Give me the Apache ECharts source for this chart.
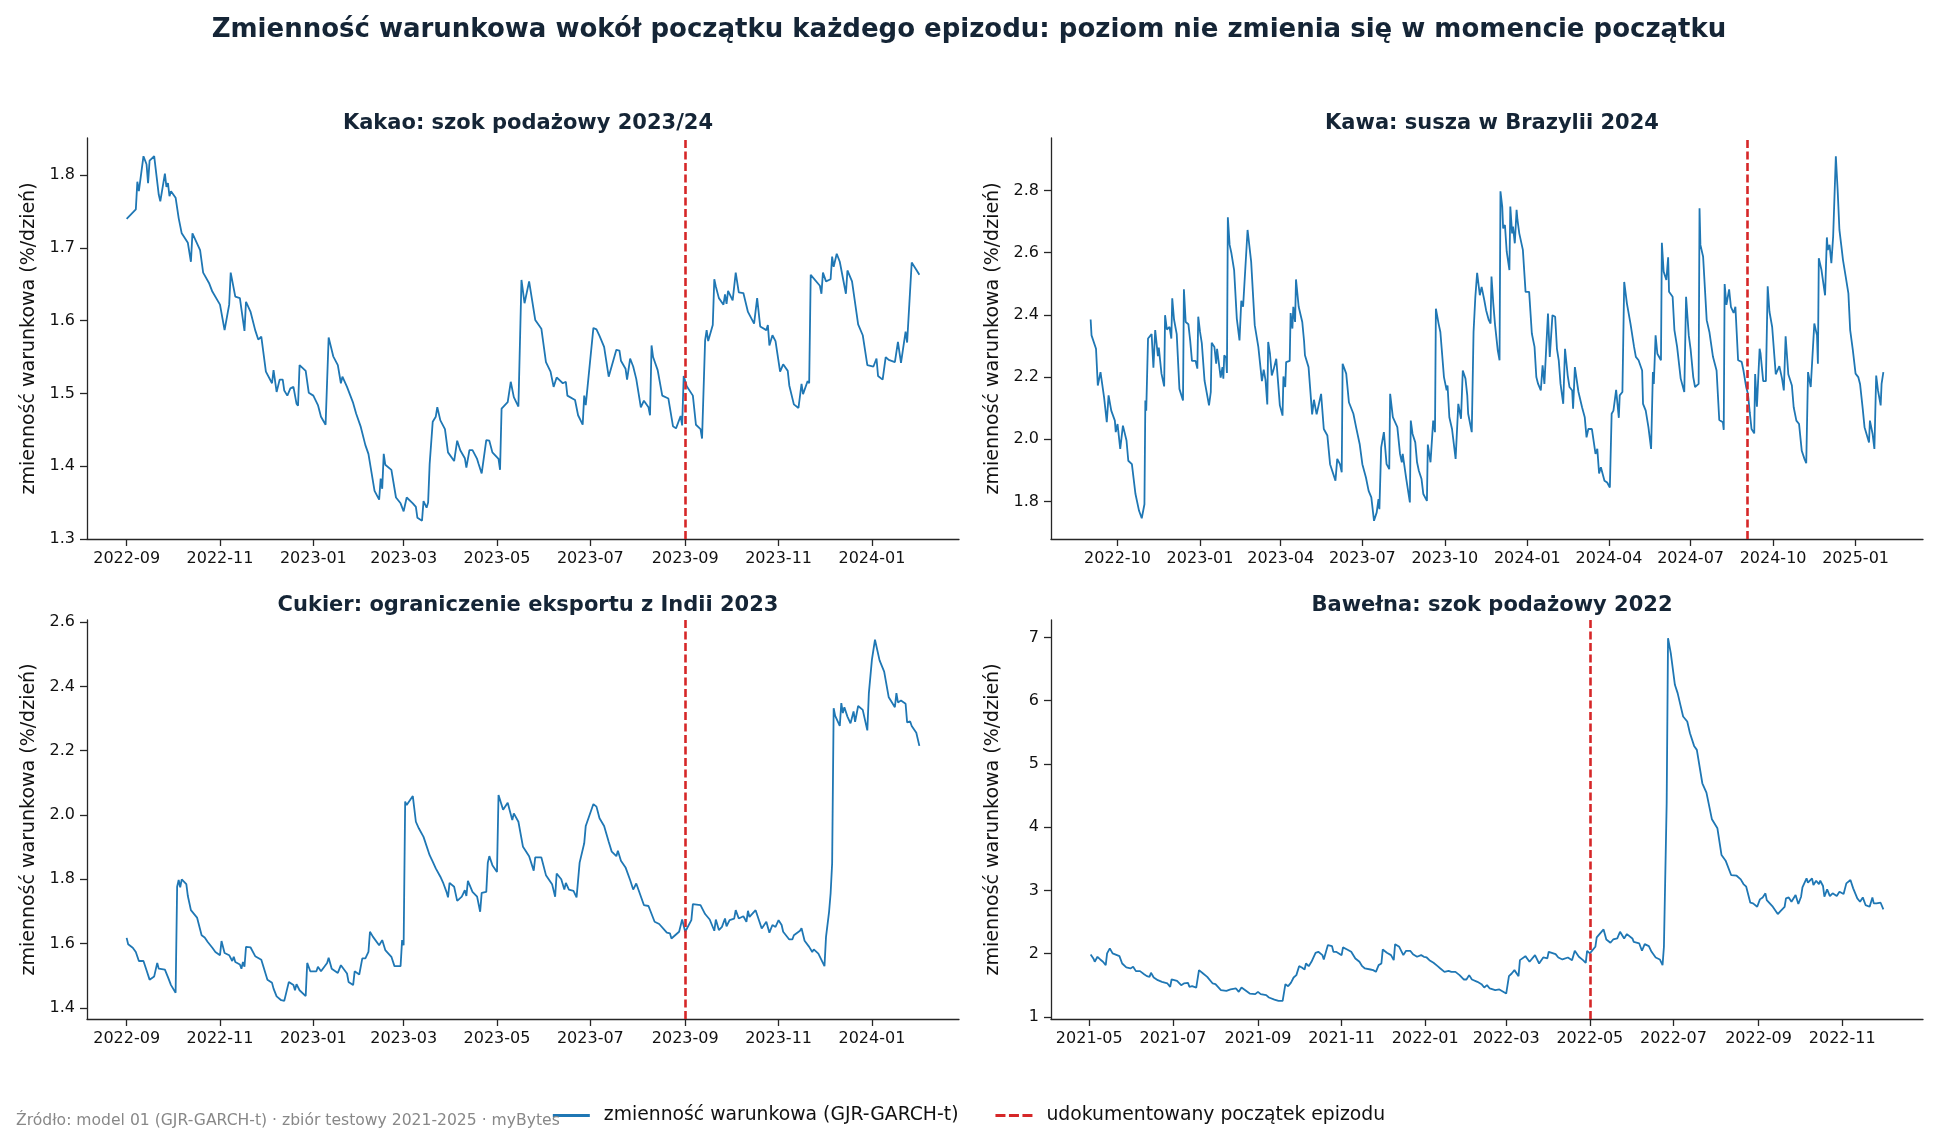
<!DOCTYPE html>
<html>
<head>
<meta charset="utf-8">
<title>Zmienność warunkowa wokół początku epizodów</title>
<script src="https://cdn.jsdelivr.net/npm/echarts@6/dist/echarts.min.js"></script>
<style>
  html, body { margin: 0; padding: 0; background: #fff; }
  #chart { width: 1938px; height: 1145px; }
</style>
</head>
<body>
<div id="chart"></div>
<script>
// each series: [days since window start, conditional volatility %/day]

const kakaoStart = '2022-09-01';
const kakaoEvent = '2023-09-01';
const kakaoXTicks = ['2022-09', '2022-11', '2023-01', '2023-03', '2023-05', '2023-07', '2023-09', '2023-11', '2024-01'];
const kakaoYTicks = ['1.3', '1.4', '1.5', '1.6', '1.7', '1.8'];
const kakao = [[0,1.740],[6,1.753],[7,1.791],[8,1.778],[11,1.826],[13,1.815],[14,1.789],[15,1.820],[18,1.826],[21,1.773],[22,1.764],[25,1.802],[26,1.784],[27,1.789],[28,1.771],[29,1.778],[32,1.769],[34,1.741],[36,1.720],[40,1.707],[42,1.681],[43,1.720],[48,1.697],[50,1.666],[54,1.651],[56,1.640],[61,1.622],[64,1.587],[67,1.622],[68,1.666],[71,1.633],[74,1.631],[77,1.586],[78,1.626],[81,1.612],[84,1.587],[86,1.574],[88,1.578],[91,1.530],[95,1.514],[96,1.532],[98,1.502],[100,1.519],[102,1.519],[103,1.504],[105,1.497],[107,1.507],[109,1.509],[111,1.486],[112,1.483],[113,1.539],[117,1.531],[119,1.501],[122,1.497],[125,1.484],[127,1.468],[130,1.457],[132,1.577],[135,1.551],[138,1.539],[140,1.514],[141,1.523],[144,1.509],[145,1.509],[148,1.487],[150,1.472],[153,1.454],[156,1.429],[158,1.417],[162,1.366],[165,1.354],[166,1.383],[167,1.369],[168,1.417],[169,1.402],[173,1.395],[176,1.357],[179,1.349],[181,1.338],[182,1.338],[183,1.357],[187,1.349],[189,1.344],[190,1.329],[193,1.325],[194,1.352],[196,1.343],[197,1.350],[198,1.403],[200,1.461],[202,1.468],[203,1.481],[205,1.463],[208,1.451],[210,1.419],[214,1.407],[216,1.435],[218,1.422],[221,1.411],[222,1.398],[224,1.422],[226,1.422],[229,1.410],[230,1.403],[232,1.390],[235,1.436],[237,1.435],[239,1.419],[243,1.410],[244,1.395],[245,1.479],[249,1.488],[251,1.516],[253,1.495],[256,1.482],[258,1.656],[260,1.624],[263,1.654],[267,1.601],[271,1.589],[274,1.543],[277,1.530],[279,1.509],[281,1.522],[285,1.514],[287,1.516],[288,1.497],[293,1.491],[295,1.470],[298,1.457],[299,1.497],[300,1.484],[305,1.590],[307,1.588],[309,1.579],[312,1.564],[315,1.523],[320,1.560],[322,1.559],[323,1.545],[326,1.534],[327,1.519],[329,1.548],[331,1.537],[333,1.520],[336,1.481],[338,1.490],[341,1.481],[342,1.470],[343,1.566],[344,1.550],[347,1.532],[350,1.497],[354,1.493],[357,1.455],[359,1.452],[362,1.469],[363,1.456],[364,1.524],[366,1.510],[370,1.497],[372,1.457],[375,1.451],[376,1.438],[378,1.573],[379,1.587],[380,1.572],[383,1.594],[384,1.657],[385,1.647],[387,1.631],[390,1.622],[391,1.636],[392,1.623],[393,1.641],[396,1.628],[398,1.666],[400,1.639],[403,1.638],[406,1.612],[407,1.611],[410,1.596],[412,1.631],[414,1.592],[418,1.587],[419,1.594],[420,1.566],[422,1.580],[424,1.572],[427,1.530],[429,1.540],[432,1.531],[433,1.511],[436,1.485],[439,1.480],[441,1.513],[442,1.499],[445,1.517],[446,1.514],[447,1.663],[453,1.648],[454,1.637],[455,1.666],[456,1.666],[457,1.654],[460,1.657],[461,1.688],[462,1.674],[464,1.692],[466,1.681],[470,1.637],[471,1.669],[474,1.654],[478,1.595],[481,1.580],[484,1.539],[488,1.537],[490,1.548],[491,1.524],[494,1.519],[496,1.550],[498,1.546],[502,1.543],[504,1.571],[506,1.542],[509,1.585],[510,1.570],[511,1.571],[513,1.680],[516,1.670],[518,1.663]];

const kawaStart = '2022-09-01';
const kawaEvent = '2024-09-02';
const kawaXTicks = ['2022-10', '2023-01', '2023-04', '2023-07', '2023-10', '2024-01', '2024-04', '2024-07', '2024-10', '2025-01'];
const kawaYTicks = ['1.8', '2.0', '2.2', '2.4', '2.6', '2.8'];
const kawa = [[0,2.385],[1,2.334],[6,2.291],[8,2.173],[11,2.216],[12,2.221],[15,2.135],[18,2.055],[20,2.141],[23,2.092],[27,2.060],[28,2.023],[30,2.049],[33,1.969],[36,2.044],[40,1.996],[42,1.931],[46,1.920],[50,1.824],[54,1.770],[57,1.746],[60,1.791],[61,2.125],[62,2.092],[64,2.324],[68,2.338],[70,2.230],[72,2.351],[75,2.267],[76,2.295],[79,2.211],[82,2.170],[83,2.399],[85,2.353],[88,2.361],[90,2.324],[91,2.453],[93,2.385],[96,2.338],[99,2.162],[103,2.125],[104,2.482],[106,2.377],[109,2.370],[111,2.318],[113,2.252],[117,2.252],[119,2.227],[120,2.394],[122,2.345],[124,2.308],[127,2.189],[132,2.109],[134,2.152],[135,2.310],[138,2.297],[140,2.243],[141,2.291],[145,2.198],[147,2.232],[148,2.195],[149,2.270],[151,2.262],[152,2.213],[153,2.714],[155,2.625],[157,2.598],[160,2.544],[163,2.388],[166,2.318],[168,2.445],[170,2.426],[175,2.673],[179,2.571],[183,2.367],[187,2.297],[191,2.187],[193,2.224],[195,2.191],[197,2.112],[198,2.313],[200,2.275],[202,2.205],[204,2.224],[207,2.259],[211,2.109],[214,2.076],[215,2.202],[217,2.168],[218,2.248],[222,2.252],[223,2.406],[225,2.356],[226,2.426],[228,2.377],[229,2.514],[232,2.426],[236,2.377],[238,2.316],[239,2.270],[243,2.232],[247,2.080],[249,2.127],[252,2.080],[257,2.146],[260,2.033],[264,2.012],[267,1.920],[273,1.867],[275,1.937],[278,1.920],[280,1.894],[281,2.243],[285,2.211],[288,2.119],[293,2.082],[296,2.039],[300,1.985],[303,1.920],[307,1.877],[310,1.834],[313,1.813],[316,1.738],[319,1.765],[321,1.808],[322,1.775],[324,1.974],[327,2.023],[330,1.920],[333,1.904],[334,2.146],[337,2.071],[342,2.039],[345,1.953],[347,1.926],[348,1.953],[352,1.872],[356,1.797],[357,2.060],[359,2.017],[362,1.990],[364,1.926],[366,1.899],[369,1.872],[371,1.824],[375,1.802],[376,1.983],[379,1.926],[382,2.060],[384,2.023],[385,2.420],[388,2.372],[390,2.345],[394,2.200],[397,2.157],[398,2.173],[400,2.071],[403,2.033],[407,1.937],[410,2.114],[413,2.066],[415,2.221],[418,2.195],[420,2.141],[421,2.082],[425,2.023],[427,2.345],[429,2.458],[431,2.535],[434,2.463],[436,2.490],[439,2.447],[441,2.415],[444,2.383],[446,2.372],[447,2.523],[449,2.437],[451,2.367],[454,2.286],[456,2.254],[457,2.797],[459,2.748],[460,2.678],[462,2.689],[464,2.603],[467,2.544],[468,2.748],[470,2.662],[471,2.684],[473,2.630],[475,2.738],[476,2.705],[478,2.662],[482,2.609],[485,2.474],[489,2.474],[492,2.340],[495,2.297],[497,2.200],[499,2.178],[502,2.157],[504,2.238],[506,2.178],[510,2.404],[512,2.265],[515,2.399],[518,2.394],[520,2.291],[522,2.254],[524,2.178],[527,2.114],[529,2.291],[532,2.205],[534,2.168],[537,2.157],[538,2.098],[540,2.232],[544,2.152],[546,2.146],[548,2.103],[551,2.071],[553,2.006],[555,2.033],[559,2.033],[563,1.953],[565,1.969],[567,1.890],[569,1.910],[573,1.867],[576,1.861],[579,1.845],[581,2.082],[583,2.092],[586,2.159],[589,2.069],[590,2.141],[593,2.152],[595,2.506],[598,2.437],[602,2.372],[606,2.297],[608,2.265],[611,2.254],[615,2.221],[616,2.114],[619,2.092],[622,2.039],[625,1.969],[627,2.216],[628,2.178],[630,2.334],[632,2.275],[636,2.254],[637,2.632],[639,2.539],[642,2.512],[644,2.585],[645,2.474],[649,2.458],[651,2.351],[654,2.297],[658,2.195],[662,2.152],[664,2.458],[667,2.334],[669,2.291],[672,2.200],[674,2.168],[678,2.178],[679,2.743],[680,2.625],[683,2.587],[687,2.383],[690,2.345],[694,2.265],[698,2.221],[701,2.062],[705,2.055],[706,2.030],[707,2.499],[709,2.432],[712,2.482],[714,2.426],[717,2.406],[719,2.426],[722,2.254],[726,2.249],[728,2.221],[731,2.168],[733,2.146],[735,2.087],[737,2.033],[740,2.019],[741,2.210],[743,2.105],[746,2.291],[747,2.277],[750,2.187],[753,2.187],[755,2.492],[757,2.410],[760,2.361],[764,2.209],[768,2.235],[771,2.195],[773,2.157],[775,2.331],[778,2.209],[782,2.173],[784,2.103],[787,2.060],[790,2.049],[793,1.963],[796,1.937],[798,1.923],[800,2.216],[803,2.168],[807,2.372],[810,2.334],[811,2.243],[812,2.582],[815,2.544],[817,2.539],[819,2.463],[821,2.649],[822,2.609],[824,2.625],[826,2.566],[828,2.652],[831,2.910],[833,2.802],[835,2.673],[837,2.625],[839,2.576],[842,2.523],[845,2.469],[847,2.351],[850,2.286],[853,2.211],[856,2.200],[858,2.178],[861,2.098],[863,2.039],[865,2.044],[868,1.990],[869,2.060],[872,2.017],[874,1.969],[876,2.205],[878,2.157],[881,2.109],[882,2.178],[884,2.216]];

const cukierStart = '2022-09-01';
const cukierEvent = '2023-09-01';
const cukierXTicks = ['2022-09', '2022-11', '2023-01', '2023-03', '2023-05', '2023-07', '2023-09', '2023-11', '2024-01'];
const cukierYTicks = ['1.4', '1.6', '1.8', '2.0', '2.2', '2.4', '2.6'];
const cukier = [[0,1.618],[1,1.598],[4,1.587],[6,1.574],[8,1.546],[11,1.546],[13,1.517],[15,1.488],[18,1.498],[19,1.498],[20,1.540],[21,1.522],[25,1.519],[27,1.496],[29,1.471],[32,1.447],[33,1.777],[34,1.798],[35,1.775],[36,1.800],[39,1.785],[40,1.748],[42,1.704],[46,1.681],[49,1.626],[51,1.619],[53,1.605],[54,1.605],[56,1.587],[58,1.574],[61,1.564],[62,1.608],[64,1.571],[67,1.564],[69,1.546],[70,1.559],[71,1.543],[74,1.535],[75,1.522],[76,1.543],[77,1.528],[78,1.590],[81,1.588],[84,1.561],[88,1.550],[92,1.488],[95,1.478],[96,1.460],[98,1.436],[101,1.424],[103,1.422],[106,1.481],[107,1.484],[109,1.471],[110,1.455],[111,1.474],[113,1.455],[117,1.437],[118,1.540],[120,1.514],[124,1.514],[125,1.528],[127,1.514],[131,1.540],[132,1.556],[134,1.522],[138,1.509],[140,1.533],[144,1.507],[145,1.481],[148,1.471],[149,1.514],[152,1.504],[154,1.554],[156,1.554],[158,1.574],[159,1.637],[161,1.621],[165,1.595],[167,1.611],[169,1.580],[173,1.559],[175,1.530],[179,1.530],[180,1.611],[181,1.595],[182,2.042],[183,2.031],[187,2.059],[189,1.979],[191,1.958],[194,1.932],[198,1.875],[200,1.855],[202,1.834],[205,1.808],[207,1.787],[209,1.761],[210,1.744],[211,1.789],[214,1.777],[216,1.733],[219,1.746],[221,1.766],[222,1.748],[223,1.795],[226,1.761],[229,1.746],[231,1.699],[232,1.758],[235,1.761],[236,1.852],[237,1.872],[239,1.844],[242,1.823],[243,2.062],[244,2.057],[246,2.016],[249,2.038],[252,1.984],[253,2.005],[256,1.979],[259,1.901],[263,1.872],[266,1.827],[267,1.868],[271,1.868],[274,1.813],[278,1.785],[280,1.746],[281,1.818],[284,1.800],[286,1.768],[287,1.789],[289,1.768],[292,1.764],[294,1.744],[296,1.852],[299,1.912],[300,1.966],[305,2.034],[307,2.026],[309,1.990],[312,1.966],[315,1.917],[317,1.886],[320,1.872],[321,1.889],[323,1.858],[326,1.837],[329,1.798],[331,1.768],[333,1.787],[338,1.720],[341,1.717],[345,1.668],[348,1.661],[353,1.634],[355,1.632],[356,1.616],[361,1.637],[363,1.675],[365,1.637],[369,1.673],[370,1.723],[375,1.720],[378,1.692],[381,1.675],[384,1.640],[385,1.675],[387,1.642],[389,1.652],[391,1.678],[392,1.654],[394,1.673],[397,1.678],[398,1.704],[400,1.678],[403,1.685],[405,1.668],[406,1.702],[407,1.683],[411,1.704],[415,1.647],[418,1.668],[420,1.634],[422,1.658],[424,1.652],[426,1.673],[428,1.658],[429,1.637],[433,1.613],[435,1.613],[436,1.626],[440,1.640],[441,1.648],[443,1.609],[446,1.590],[448,1.574],[449,1.582],[452,1.569],[453,1.564],[456,1.530],[457,1.621],[459,1.699],[460,1.756],[461,1.849],[462,2.332],[463,2.308],[466,2.277],[467,2.348],[468,2.317],[469,2.335],[471,2.306],[473,2.285],[475,2.322],[476,2.290],[478,2.339],[481,2.327],[484,2.263],[485,2.379],[487,2.483],[489,2.545],[490,2.550],[492,2.481],[495,2.446],[496,2.443],[498,2.366],[502,2.335],[503,2.379],[504,2.350],[506,2.356],[509,2.346],[510,2.288],[512,2.291],[513,2.277],[516,2.256],[518,2.215]];

const bawelnaStart = '2021-05-01';
const bawelnaEvent = '2022-05-01';
const bawelnaXTicks = ['2021-05', '2021-07', '2021-09', '2021-11', '2022-01', '2022-03', '2022-05', '2022-07', '2022-09', '2022-11'];
const bawelnaYTicks = ['1', '2', '3', '4', '5', '6', '7'];
const bawelna = [[1,1.987],[3,1.924],[4,1.871],[6,1.950],[8,1.908],[10,1.871],[12,1.818],[13,2.003],[15,2.082],[17,2.003],[22,1.960],[24,1.844],[27,1.781],[30,1.765],[32,1.792],[34,1.723],[37,1.723],[40,1.675],[42,1.644],[44,1.633],[45,1.697],[47,1.623],[50,1.580],[53,1.554],[54,1.570],[57,1.528],[59,1.475],[60,1.591],[64,1.570],[67,1.501],[69,1.528],[72,1.538],[73,1.475],[75,1.485],[78,1.464],[80,1.739],[83,1.686],[86,1.633],[90,1.528],[92,1.517],[96,1.422],[100,1.412],[103,1.433],[104,1.464],[107,1.449],[109,1.396],[111,1.464],[113,1.433],[117,1.369],[121,1.359],[123,1.396],[125,1.359],[129,1.343],[131,1.306],[135,1.274],[138,1.253],[139,1.274],[141,1.253],[143,1.517],[145,1.485],[147,1.538],[149,1.623],[151,1.660],[153,1.802],[155,1.781],[157,1.749],[158,1.844],[160,1.802],[162,1.871],[163,1.887],[165,2.013],[167,2.029],[170,1.976],[171,1.908],[172,1.908],[174,2.135],[177,2.119],[178,2.029],[180,2.029],[182,2.003],[184,1.976],[185,2.098],[188,2.066],[191,2.029],[194,1.924],[197,1.871],[199,1.802],[201,1.765],[205,1.749],[207,1.739],[209,1.712],[211,1.818],[213,1.844],[214,2.066],[217,2.013],[220,1.976],[222,1.897],[223,2.150],[226,2.108],[229,1.976],[231,2.045],[234,2.045],[236,1.992],[239,1.950],[242,1.976],[244,1.950],[246,1.939],[248,1.897],[251,1.855],[254,1.802],[256,1.765],[259,1.712],[262,1.728],[264,1.712],[267,1.712],[270,1.660],[273,1.591],[275,1.591],[277,1.660],[279,1.591],[283,1.554],[286,1.517],[288,1.464],[290,1.501],[292,1.449],[296,1.422],[299,1.433],[304,1.369],[306,1.644],[308,1.686],[310,1.739],[313,1.644],[314,1.897],[318,1.960],[321,1.871],[325,1.976],[328,1.844],[331,1.939],[334,1.924],[335,2.029],[340,1.992],[342,1.939],[345,1.908],[349,1.939],[352,1.897],[354,2.045],[357,1.950],[360,1.897],[362,1.855],[363,2.045],[365,2.003],[369,2.108],[370,2.256],[375,2.383],[377,2.224],[380,2.172],[382,2.224],[385,2.240],[387,2.346],[390,2.240],[392,2.309],[396,2.240],[397,2.187],[401,2.161],[403,2.045],[405,2.150],[408,2.119],[410,2.029],[413,1.939],[416,1.908],[418,1.818],[419,2.108],[421,4.377],[422,6.989],[424,6.752],[427,6.251],[429,6.119],[431,5.934],[433,5.749],[436,5.670],[438,5.485],[441,5.285],[443,5.222],[447,4.694],[450,4.546],[454,4.124],[458,3.982],[461,3.559],[464,3.470],[468,3.243],[472,3.232],[475,3.174],[477,3.100],[479,3.058],[482,2.805],[484,2.794],[485,2.821],[487,2.741],[489,2.858],[491,2.889],[493,2.953],[494,2.847],[498,2.752],[500,2.689],[502,2.625],[504,2.673],[507,2.741],[508,2.873],[510,2.889],[512,2.821],[515,2.926],[517,2.784],[519,2.900],[520,3.047],[523,3.190],[524,3.121],[527,3.190],[528,3.084],[530,3.153],[532,3.100],[533,3.153],[535,3.069],[536,2.900],[538,3.016],[540,2.910],[542,2.953],[545,2.910],[547,2.979],[550,2.942],[552,3.111],[555,3.164],[557,3.032],[560,2.873],[562,2.821],[564,2.889],[566,2.768],[569,2.741],[571,2.889],[572,2.794],[574,2.794],[577,2.805],[579,2.699]];

const panelTitles = ['Kakao: szok podażowy 2023/24', 'Kawa: susza w Brazylii 2024', 'Cukier: ograniczenie eksportu z Indii 2023', 'Bawełna: szok podażowy 2022'];
const seriesName = 'zmienność warunkowa (GJR-GARCH-t)';
const eventName = 'udokumentowany początek epizodu';

const DAY = 86400000;
const FONT = 'DejaVu Sans';
const INK = '#262626';
const BLUE = '#1f77b4';
const RED = '#d62728';

function utc(s) {
  const p = s.split('-').map(Number);
  return Date.UTC(p[0], p[1] - 1, p[2] || 1);
}
function ym(ts) {
  const d = new Date(ts);
  return d.getUTCFullYear() + '-' + String(d.getUTCMonth() + 1).padStart(2, '0');
}
// matplotlib-style 5% autoscale margin
function pad(lo, hi) {
  const m = (hi - lo) * 0.05;
  return [lo - m, hi + m];
}

const panels = [
  { start: kakaoStart, event: kakaoEvent, data: kakao, xt: kakaoXTicks, yt: kakaoYTicks },
  { start: kawaStart, event: kawaEvent, data: kawa, xt: kawaXTicks, yt: kawaYTicks },
  { start: cukierStart, event: cukierEvent, data: cukier, xt: cukierXTicks, yt: cukierYTicks },
  { start: bawelnaStart, event: bawelnaEvent, data: bawelna, xt: bawelnaXTicks, yt: bawelnaYTicks }
];

const boxes = [
  { left: 87, top: 138, width: 872, height: 401 },
  { left: 1051, top: 138, width: 872, height: 401 },
  { left: 87, top: 620, width: 872, height: 399 },
  { left: 1051, top: 620, width: 872, height: 399 }
];

const grid = [], xAxis = [], yAxis = [], series = [];
const title = [{
  text: 'Zmienność warunkowa wokół początku każdego epizodu: poziom nie zmienia się w momencie początku',
  left: 'center', top: 12,
  textStyle: { fontFamily: FONT, fontSize: 26, fontWeight: 'bold', color: '#152536' }
}];

panels.forEach((p, i) => {
  const t0 = utc(p.start);
  const pts = p.data.map(d => [t0 + d[0] * DAY, d[1]]);
  const xs = pts.map(d => d[0]), ys = pts.map(d => d[1]);
  const xr = pad(Math.min(...xs), Math.max(...xs));
  const yr = pad(Math.min(...ys), Math.max(...ys));
  const b = boxes[i];

  grid.push({ left: b.left, top: b.top, width: b.width, height: b.height, containLabel: false });

  title.push({
    text: panelTitles[i],
    left: b.left + b.width / 2, top: b.top - 30, textAlign: 'center',
    textStyle: { fontFamily: FONT, fontSize: 21, fontWeight: 'bold', color: '#152536' }
  });

  // dates as UTC timestamps on a linear value axis (month ticks placed explicitly)
  const xVals = p.xt.map(utc);
  xAxis.push({
    type: 'value', gridIndex: i, min: xr[0], max: xr[1], scale: true,
    splitLine: { show: false },
    axisLine: { onZero: false, lineStyle: { color: INK, width: 1.3 } },
    axisTick: { show: true, length: 7, customValues: xVals, lineStyle: { color: INK, width: 1.3 } },
    axisLabel: {
      customValues: xVals, margin: 12, fontFamily: FONT, fontSize: 16, color: '#111',
      formatter: v => ym(v)
    }
  });

  const yVals = p.yt.map(Number);
  yAxis.push({
    type: 'value', gridIndex: i, min: yr[0], max: yr[1], scale: true,
    name: 'zmienność warunkowa (%/dzień)', nameLocation: 'middle', nameGap: 48, nameRotate: 90,
    nameTextStyle: { fontFamily: FONT, fontSize: 19, color: '#111' },
    splitLine: { show: false },
    axisLine: { show: true, onZero: false, lineStyle: { color: INK, width: 1.3 } },
    axisTick: { show: true, length: 7, customValues: yVals, lineStyle: { color: INK, width: 1.3 } },
    axisLabel: {
      customValues: yVals, margin: 12, fontFamily: FONT, fontSize: 16, color: '#111',
      formatter: v => {
        const k = yVals.findIndex(y => Math.abs(y - v) < 1e-9);
        return k < 0 ? '' : p.yt[k];
      }
    }
  });

  series.push({
    name: seriesName, type: 'line', xAxisIndex: i, yAxisIndex: i,
    data: pts, symbol: 'none', animation: false, silent: true,
    lineStyle: { color: BLUE, width: 1.8 }, itemStyle: { color: BLUE },
    markLine: {
      silent: true, animation: false, symbol: ['none', 'none'],
      label: { show: false },
      lineStyle: { color: RED, width: 2.6, type: [8, 3.5] },
      data: [{ xAxis: utc(p.event) }]
    }
  });
});

// legend-only entry for the dashed event marker
series.push({
  name: eventName, type: 'line', xAxisIndex: 0, yAxisIndex: 0, data: [],
  symbol: 'none', animation: false,
  lineStyle: { color: RED, width: 2.6, type: [8, 3.5] }, itemStyle: { color: RED }
});

title.push({
  text: 'Źródło: model 01 (GJR-GARCH-t) · zbiór testowy 2021-2025 · myBytes',
  left: 11, top: 1108,
  textStyle: { fontFamily: FONT, fontSize: 15.6, fontWeight: 'normal', color: '#888' }
});

const chart = echarts.init(document.getElementById('chart'), null, { renderer: 'canvas' });
chart.setOption({
  backgroundColor: '#fff',
  animation: false,
  title: title,
  grid: grid,
  xAxis: xAxis,
  yAxis: yAxis,
  legend: {
    data: [
      { name: seriesName, icon: 'rect' },
      { name: eventName, icon: 'path://M0,0h10v3h-10z M13.5,0h10v3h-10z M27,0h10v3h-10z' }
    ],
    left: 'center', top: 1101,
    itemWidth: 37, itemHeight: 3, itemGap: 37,
    selectedMode: false,
    textStyle: { fontFamily: FONT, fontSize: 18.8, color: '#111', padding: [0, 0, 0, 9] }
  },
  series: series
});
</script>
</body>
</html>
